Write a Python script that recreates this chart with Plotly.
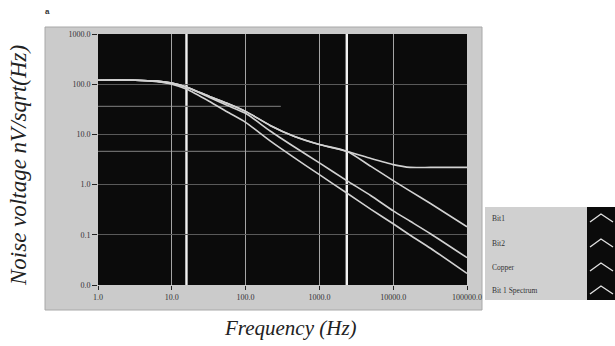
import plotly.graph_objects as go

# ---- data ----
freq = [1, 3.2, 6.3, 10, 16, 32, 56, 100, 215, 460, 1000, 2350, 5000, 10000, 17000, 32000, 100000]
bit1 = [120, 120, 115, 105, 87, 57.5, 41.7, 28.8, 15.1, 9.1, 6.3, 4.6, 3.3, 2.5, 2.2, 2.2, 2.2]
bit2 = [120, 120, 115, 105, 87, 57.5, 41.7, 28.8, 15.1, 9.1, 6.3, 4.6, 2.3, 1.2, 0.74, 0.42, 0.145]
copper = [120, 120, 115, 105, 87, 55, 38, 26.3, 11.7, 5.6, 2.7, 1.2, 0.6, 0.30, 0.186, 0.105, 0.035]
bit1_spectrum = [120, 120, 112, 100, 79, 45.7, 28.2, 17.4, 7.4, 3.4, 1.58, 0.68, 0.32, 0.166, 0.098, 0.054, 0.017]
series_names = ["Bit1", "Bit2", "Copper", "Bit 1 Spectrum"]
series_values = [bit1, bit2, copper, bit1_spectrum]

x_tickvals = [1, 10, 100, 1000, 10000, 100000]
x_ticktext = ["1.0", "10.0", "100.0", "1000.0", "10000.0", "100000.0"]
y_tickvals = [0.01, 0.1, 1, 10, 100, 1000]
y_ticktext = ["0.0", "0.1", "1.0", "10.0", "100.0", "1000.0"]

cursor_freqs = [15.8, 2350]
hcursor_levels = [36, 4.6]
hcursor_ends = [300, 1000]

# ---- geometry helpers (pixel -> paper) ----
W, H = 615, 346
L, R, T, B = 98, 467, 34, 285


def px(xp):
    return (xp - L) / (R - L)


def py(yp):
    return (B - yp) / (B - T)


fig = go.Figure()
for name, vals in zip(series_names, series_values):
    fig.add_trace(go.Scatter(x=freq, y=vals, name=name, mode="lines",
                             line=dict(color="#d2d2d2", width=1.6, shape="spline", smoothing=0.6),
                             showlegend=False))

shapes = []
# grey instrument frame
shapes.append(dict(type="rect", xref="paper", yref="paper", x0=px(45), x1=px(482), y0=py(310), y1=py(27),
                   fillcolor="#cbcbcb", line=dict(color="#a8a8a8", width=1), layer="below"))
# legend panel
shapes.append(dict(type="rect", xref="paper", yref="paper", x0=px(485), x1=px(615), y0=py(300), y1=py(207),
                   fillcolor="#d0d0d0", line=dict(width=0), layer="below"))
shapes.append(dict(type="rect", xref="paper", yref="paper", x0=px(587), x1=px(615), y0=py(300), y1=py(207),
                   fillcolor="#0b0b0b", line=dict(width=0), layer="below"))
legend_rows = [218, 243, 267, 290]
for yr in legend_rows:
    path = "M {:.4f},{:.4f} L {:.4f},{:.4f} L {:.4f},{:.4f}".format(
        px(590), py(yr + 4), px(601), py(yr - 4), px(613), py(yr + 4))
    shapes.append(dict(type="path", xref="paper", yref="paper", path=path,
                       line=dict(color="#e0e0e0", width=1.4)))
# black plot area
shapes.append(dict(type="rect", xref="x domain", yref="y domain", x0=0, x1=1, y0=0, y1=1,
                   fillcolor="#0b0b0b", line=dict(width=0), layer="below"))
# cursors
for cf in cursor_freqs:
    shapes.append(dict(type="line", xref="x", yref="y domain", x0=cf, x1=cf, y0=0, y1=1,
                       line=dict(color="#f2f2f2", width=2.4), layer="below"))
for lv, xe in zip(hcursor_levels, hcursor_ends):
    shapes.append(dict(type="line", xref="x", yref="y", x0=1, x1=xe, y0=lv, y1=lv,
                       line=dict(color="#6a6a6a", width=1.2), layer="below"))

annotations = []
for name, yr in zip(series_names, legend_rows):
    annotations.append(dict(text=name, xref="paper", yref="paper", x=px(490), y=py(yr),
                            xanchor="left", yanchor="middle", showarrow=False,
                            font=dict(family="Liberation Serif", size=7.5, color="#333333")))
annotations.append(dict(text="<i>Noise voltage nV/sqrt(Hz)</i>", xref="paper", yref="paper",
                        x=px(18), y=py(166), textangle=-90, showarrow=False,
                        xanchor="center", yanchor="middle",
                        font=dict(family="Liberation Serif", size=23, color="#222222")))
annotations.append(dict(text="<i>Frequency (Hz)</i>", xref="paper", yref="paper",
                        x=px(290), y=py(328), showarrow=False, xanchor="center", yanchor="middle",
                        font=dict(family="Liberation Serif", size=21, color="#222222")))
annotations.append(dict(text="<b>a</b>", xref="paper", yref="paper", x=px(47), y=py(11),
                        showarrow=False, xanchor="center", yanchor="middle",
                        font=dict(family="Liberation Sans", size=8, color="#333333")))

fig.update_layout(
    width=W, height=H,
    margin=dict(l=L, r=W - R, t=T, b=H - B, pad=0),
    paper_bgcolor="white", plot_bgcolor="#0b0b0b",
    shapes=shapes, annotations=annotations, showlegend=False,
    xaxis=dict(type="log", range=[0, 5], tickvals=x_tickvals, ticktext=x_ticktext,
               showgrid=True, gridcolor="#a5a5a5", gridwidth=1.4, zeroline=False,
               ticks="outside", ticklen=4, tickcolor="#222222", showline=False,
               tickfont=dict(family="Liberation Serif", size=8, color="#333333")),
    yaxis=dict(type="log", range=[-2, 3], tickvals=y_tickvals, ticktext=y_ticktext,
               showgrid=True, gridcolor="#5a5a5a", gridwidth=1, zeroline=False,
               ticks="outside", ticklen=5, tickcolor="#222222", showline=False,
               tickfont=dict(family="Liberation Serif", size=8, color="#333333")),
)

fig.write_html("out.html", config={"displayModeBar": False},
               post_script="document.body.style.margin='0';")
